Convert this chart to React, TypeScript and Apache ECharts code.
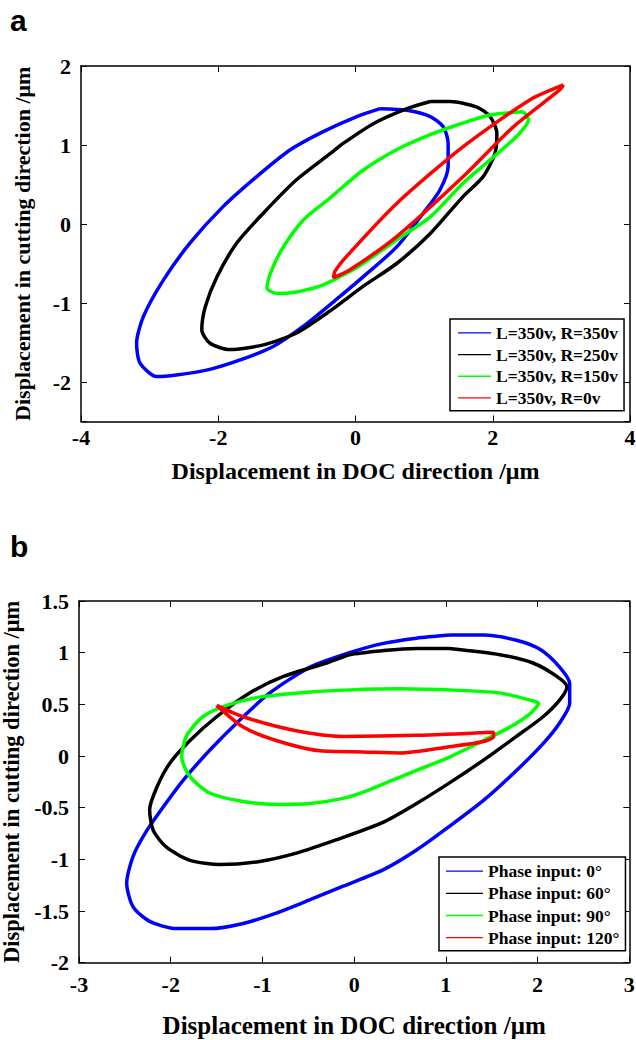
import React, { useEffect, useRef } from "react";
import * as echarts from "echarts";

// ---------- Panel a ----------
const aXTicks = [-4, -2, 0, 2, 4];
const aYTicks = [-2.5, -2, -1, 0, 1, 2];
const aNames = ["L=350v, R=350v", "L=350v, R=250v", "L=350v, R=150v", "L=350v, R=0v"];

const aBlueX = [0.36, 0.02, -0.47, -0.95, -1.44, -1.93, -2.41, -2.8, -3.09, -3.19, -3.14, -2.9, -2.61, -2.17, -1.68, -1.2, -0.71, -0.23, 0.11, 0.6, 0.99, 1.23, 1.35, 1.35, 1.28, 1.09, 0.75, 0.36];
const aBlueY = [1.46, 1.36, 1.17, 0.94, 0.6, 0.22, -0.24, -0.71, -1.17, -1.51, -1.76, -1.93, -1.91, -1.85, -1.72, -1.55, -1.26, -0.92, -0.67, -0.29, 0.14, 0.43, 0.73, 1.02, 1.23, 1.36, 1.44, 1.46];

const aBlackX = [1.09, 0.75, 0.26, -0.18, -0.37, -0.86, -1.34, -1.73, -2.02, -2.19, -2.24, -2.12, -1.83, -1.34, -0.86, -0.37, 0.11, 0.6, 1.09, 1.57, 1.86, 2.03, 2.06, 1.96, 1.77, 1.38, 1.09];
const aBlackY = [1.55, 1.46, 1.27, 1.02, 0.89, 0.56, 0.14, -0.24, -0.67, -1.05, -1.34, -1.51, -1.59, -1.53, -1.38, -1.1, -0.79, -0.5, -0.12, 0.35, 0.6, 0.89, 1.15, 1.36, 1.48, 1.55, 1.55];

const aGreenX = [2.45, 1.96, 1.47, 1.09, 0.6, 0.11, -0.37, -0.76, -1.05, -1.22, -1.29, -1.15, -0.86, -0.47, -0.08, 0.11, 0.6, 1.09, 1.57, 1.96, 2.35, 2.52, 2.45];
const aGreenY = [1.42, 1.38, 1.25, 1.13, 0.94, 0.68, 0.33, 0.05, -0.29, -0.58, -0.81, -0.88, -0.86, -0.77, -0.6, -0.5, -0.2, 0.09, 0.52, 0.81, 1.11, 1.32, 1.42];

const aRedX = [3.03, 2.54, 1.57, 0.6, -0.13, -0.3, -0.32, -0.08, 0.6, 1.57, 2.3, 2.98, 3.03];
const aRedY = [1.76, 1.57, 0.98, 0.26, -0.41, -0.6, -0.68, -0.58, -0.16, 0.6, 1.23, 1.7, 1.76];

// ---------- Panel b ----------
const bXTicks = [-3, -2, -1, 0, 1, 2, 3];
const bYTicks = [-2, -1.5, -1, -0.5, 0, 0.5, 1, 1.5];
const bNames = ["Phase input: 0°", "Phase input: 60°", "Phase input: 90°", "Phase input: 120°"];

const bBlueX = [1.04, 0.68, 0.32, -0.05, -0.48, -0.92, -1.28, -1.57, -1.86, -2.08, -2.26, -2.41, -2.48, -2.41, -2.23, -1.94, -1.57, -1.21, -0.85, -0.48, -0.12, 0.32, 0.68, 1.04, 1.41, 1.77, 2.06, 2.24, 2.35, 2.35, 2.24, 2.03, 1.77, 1.41, 1.04];
const bBlueY = [1.17, 1.14, 1.09, 1.0, 0.86, 0.61, 0.32, 0.06, -0.23, -0.49, -0.72, -0.97, -1.23, -1.46, -1.6, -1.67, -1.67, -1.62, -1.52, -1.39, -1.26, -1.1, -0.91, -0.68, -0.43, -0.14, 0.12, 0.32, 0.51, 0.7, 0.86, 1.03, 1.12, 1.17, 1.17];

const bBlackX = [1.04, 0.68, 0.32, -0.05, -0.3, -0.77, -1.14, -1.5, -1.79, -2.01, -2.15, -2.23, -2.19, -2.05, -1.79, -1.46, -1.03, -0.63, -0.19, 0.32, 0.68, 1.04, 1.41, 1.77, 2.06, 2.24, 2.32, 2.21, 1.95, 1.59, 1.04];
const bBlackY = [1.04, 1.04, 1.02, 0.98, 0.9, 0.77, 0.61, 0.38, 0.15, -0.07, -0.3, -0.52, -0.72, -0.88, -1.01, -1.05, -1.02, -0.94, -0.81, -0.64, -0.46, -0.26, -0.04, 0.19, 0.38, 0.54, 0.67, 0.77, 0.9, 0.98, 1.04];

const bGreenX = [1.04, 0.5, -0.05, -0.48, -1.03, -1.39, -1.65, -1.83, -1.88, -1.79, -1.57, -1.21, -0.85, -0.48, -0.12, 0.1, 0.32, 0.68, 1.04, 1.41, 1.7, 1.92, 2.01, 1.92, 1.59, 1.04];
const bGreenY = [0.64, 0.65, 0.64, 0.62, 0.57, 0.49, 0.38, 0.19, -0.01, -0.2, -0.36, -0.44, -0.47, -0.46, -0.41, -0.35, -0.27, -0.14, -0.01, 0.15, 0.28, 0.41, 0.51, 0.54, 0.61, 0.64];

const bRedX = [-1.5, -1.21, -0.66, -0.12, 0.68, 1.52, 1.52, 1.41, 1.04, 0.5, 0.1, -0.37, -0.85, -1.21, -1.5];
const bRedY = [0.49, 0.38, 0.25, 0.19, 0.2, 0.23, 0.19, 0.14, 0.09, 0.03, 0.04, 0.05, 0.15, 0.28, 0.49];

const COLORS = ["#0000ff", "#000000", "#00ff00", "#ff0000"];
const SERIF = "'Liberation Serif', 'Times New Roman', serif";

const zip = (xs: number[], ys: number[]) => xs.map((x, i) => [x, ys[i]]);

export default function App() {
  const ref = useRef<HTMLDivElement>(null);

  useEffect(() => {
    document.body.style.margin = "0";
    if (!ref.current) return;
    const chart = echarts.init(ref.current, null, { renderer: "svg" });

    const axisLine = { show: true, onZero: false, lineStyle: { color: "#000", width: 1.5 } };
    const axisTick = { show: true, inside: true, length: 6, lineStyle: { color: "#000", width: 1 } };
    const labelStyle = { color: "#000", fontFamily: SERIF, fontWeight: "bold" as const, fontSize: 22 };

    const mkX = (grid: number, min: number, max: number, interval: number, main: boolean, nameGap: number, nameSize: number, margin: number) => ({
      type: "value",
      gridIndex: grid,
      position: main ? "bottom" : "top",
      min,
      max,
      interval,
      axisLine,
      axisTick,
      splitLine: { show: false },
      axisLabel: main ? { ...labelStyle, margin } : { show: false },
      name: main ? "Displacement in DOC direction /μm" : "",
      nameLocation: "middle",
      nameGap,
      nameTextStyle: { color: "#000", fontFamily: SERIF, fontWeight: "bold", fontSize: nameSize },
    });

    const mkY = (grid: number, min: number, max: number, interval: number | undefined, main: boolean, nameGap: number, nameSize: number, intOnly: boolean) => ({
      type: "value",
      gridIndex: grid,
      position: main ? "left" : "right",
      min,
      max,
      ...(interval !== undefined ? { interval } : { splitNumber: 5 }),
      axisLine,
      axisTick,
      splitLine: { show: false },
      axisLabel: main
        ? {
            ...labelStyle,
            margin: 10,
            formatter: (v: number) => (intOnly && !Number.isInteger(v) ? "" : String(v)),
          }
        : { show: false },
      name: main ? "Displacement in cutting direction /μm" : "",
      nameLocation: "middle",
      nameGap,
      nameTextStyle: { color: "#000", fontFamily: SERIF, fontWeight: "bold", fontSize: nameSize },
    });

    const mkSeries = (name: string, xs: number[], ys: number[], color: string, axis: number, width: number) => ({
      type: "line",
      name,
      xAxisIndex: axis,
      yAxisIndex: axis,
      data: zip(xs, ys),
      showSymbol: false,
      symbol: "none",
      smooth: 0.25,
      color,
      lineStyle: { color, width },
      itemStyle: { color },
      clip: true,
    });

    const legendText = { color: "#000", fontFamily: SERIF, fontWeight: "bold" as const, fontSize: 17.5 };

    const option = {
      animation: false,
      backgroundColor: "#fff",
      graphic: [
        { type: "text", left: 10, top: 5, style: { text: "a", fill: "#000", font: "bold 30px 'Liberation Sans', Arial, sans-serif" } },
        { type: "text", left: 10, top: 531, style: { text: "b", fill: "#000", font: "bold 30px 'Liberation Sans', Arial, sans-serif" } },
      ],
      grid: [
        { left: 81, top: 66, width: 549, height: 355.5, containLabel: false, outerBoundsMode: "none" },
        { left: 79, top: 601, width: 550.3, height: 361.7, containLabel: false, outerBoundsMode: "none" },
      ],
      xAxis: [
        mkX(0, aXTicks[0], aXTicks[aXTicks.length - 1], 2, true, 37, 24, 5),
        mkX(0, aXTicks[0], aXTicks[aXTicks.length - 1], 2, false, 0, 24, 5),
        mkX(1, bXTicks[0], bXTicks[bXTicks.length - 1], 1, true, 50, 25, 11),
        mkX(1, bXTicks[0], bXTicks[bXTicks.length - 1], 1, false, 0, 25, 11),
      ],
      yAxis: [
        mkY(0, aYTicks[0], aYTicks[aYTicks.length - 1], undefined, true, 48, 22, true),
        mkY(0, aYTicks[0], aYTicks[aYTicks.length - 1], undefined, false, 0, 22, true),
        mkY(1, bYTicks[0], bYTicks[bYTicks.length - 1], 0.5, true, 46, 22.5, false),
        mkY(1, bYTicks[0], bYTicks[bYTicks.length - 1], 0.5, false, 0, 22.5, false),
      ],
      legend: [
        {
          data: aNames,
          orient: "vertical",
          left: 450,
          top: 319,
          icon: "rect",
          itemWidth: 33,
          itemHeight: 1.3,
          itemGap: 0,
          padding: [3, 6, 2, 8],
          backgroundColor: "#fff",
          borderColor: "#000",
          borderWidth: 1.5,
          selectedMode: false,
          textStyle: { ...legendText, lineHeight: 21.7 },
        },
        {
          data: bNames,
          orient: "vertical",
          left: 439,
          top: 857,
          icon: "rect",
          itemWidth: 37,
          itemHeight: 1.3,
          itemGap: 0,
          padding: [3, 6, 2, 7],
          backgroundColor: "#fff",
          borderColor: "#000",
          borderWidth: 1.5,
          selectedMode: false,
          textStyle: { ...legendText, lineHeight: 22.2 },
        },
      ],
      series: [
        mkSeries(aNames[0], aBlueX, aBlueY, COLORS[0], 0, 3.5),
        mkSeries(aNames[1], aBlackX, aBlackY, COLORS[1], 0, 3.5),
        mkSeries(aNames[2], aGreenX, aGreenY, COLORS[2], 0, 3.5),
        mkSeries(aNames[3], aRedX, aRedY, COLORS[3], 0, 3.5),
        mkSeries(bNames[0], bBlueX, bBlueY, COLORS[0], 2, 3.5),
        mkSeries(bNames[1], bBlackX, bBlackY, COLORS[1], 2, 3.5),
        mkSeries(bNames[2], bGreenX, bGreenY, COLORS[2], 2, 3.5),
        mkSeries(bNames[3], bRedX, bRedY, COLORS[3], 2, 3.5),
      ],
    };

    chart.setOption(option as any);
    return () => chart.dispose();
  }, []);

  return <div ref={ref} style={{ width: 636, height: 1040 }} />;
}
